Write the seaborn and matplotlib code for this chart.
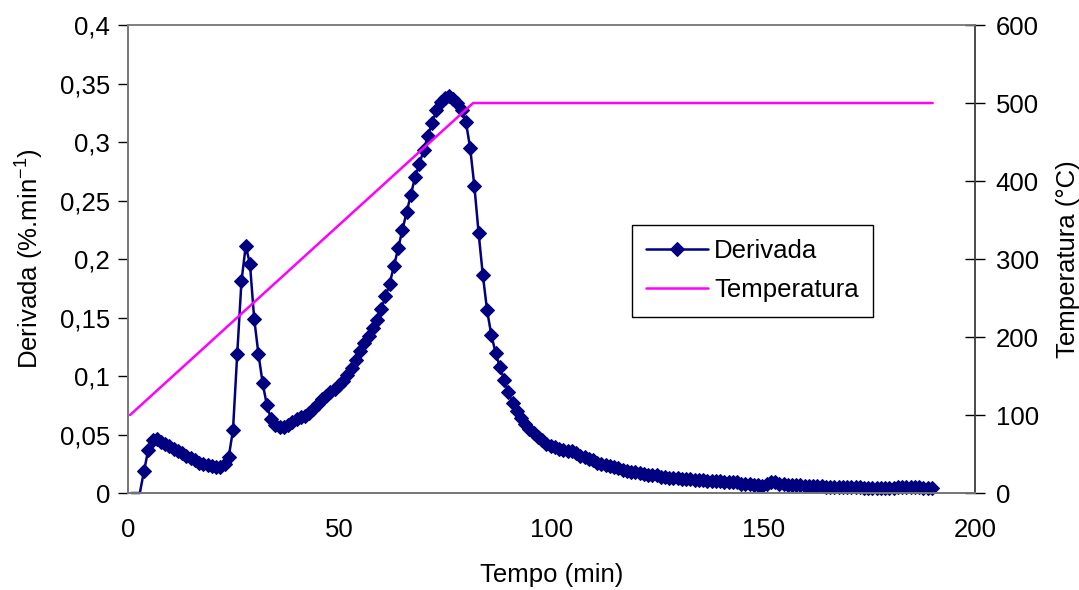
import matplotlib
matplotlib.use("Agg")
import matplotlib.pyplot as plt
import seaborn as sns
import pandas as pd

# ---------------- data ----------------
tempo = [
    0.8, 1.8, 2.8, 3.8, 4.8, 5.8, 6.8, 7.8, 8.8, 9.8,
    10.8, 11.8, 12.8, 13.8, 14.8, 15.8, 16.8, 17.8, 18.8, 19.8,
    20.8, 21.8, 22.8, 23.8, 24.8, 25.8, 26.8, 27.8, 28.8, 29.8,
    30.8, 31.8, 32.8, 33.8, 34.8, 35.8, 36.8, 37.8, 38.8, 39.8,
    40.8, 41.8, 42.8, 43.8, 44.8, 45.8, 46.8, 47.8, 48.8, 49.8,
    50.8, 51.8, 52.8, 53.8, 54.8, 55.8, 56.8, 57.8, 58.8, 59.8,
    60.8, 61.8, 62.8, 63.8, 64.8, 65.8, 66.8, 67.8, 68.8, 69.8,
    70.8, 71.8, 72.8, 73.8, 74.8, 75.8, 76.8, 77.8, 78.8, 79.8,
    80.8, 81.8, 82.8, 83.8, 84.8, 85.8, 86.8, 87.8, 88.8, 89.8,
    90.8, 91.8, 92.8, 93.8, 94.8, 95.8, 96.8, 97.8, 98.8, 99.8,
    100.8, 101.8, 102.8, 103.8, 104.8, 105.8, 106.8, 107.8, 108.8, 109.8,
    110.8, 111.8, 112.8, 113.8, 114.8, 115.8, 116.8, 117.8, 118.8, 119.8,
    120.8, 121.8, 122.8, 123.8, 124.8, 125.8, 126.8, 127.8, 128.8, 129.8,
    130.8, 131.8, 132.8, 133.8, 134.8, 135.8, 136.8, 137.8, 138.8, 139.8,
    140.8, 141.8, 142.8, 143.8, 144.8, 145.8, 146.8, 147.8, 148.8, 149.8,
    150.8, 151.8, 152.8, 153.8, 154.8, 155.8, 156.8, 157.8, 158.8, 159.8,
    160.8, 161.8, 162.8, 163.8, 164.8, 165.8, 166.8, 167.8, 168.8, 169.8,
    170.8, 171.8, 172.8, 173.8, 174.8, 175.8, 176.8, 177.8, 178.8, 179.8,
    180.8, 181.8, 182.8, 183.8, 184.8, 185.8, 186.8, 187.8, 188.8, 189.8,
]

derivada = [
    0.000, 0.000, 0.000, 0.019, 0.037, 0.045, 0.046, 0.044, 0.042, 0.040,
    0.038, 0.036, 0.034, 0.032, 0.030, 0.028, 0.026, 0.025, 0.024, 0.023,
    0.022, 0.022, 0.025, 0.031, 0.054, 0.119, 0.181, 0.211, 0.196, 0.149,
    0.119, 0.094, 0.075, 0.063, 0.058, 0.056, 0.056, 0.058, 0.061, 0.063,
    0.065, 0.066, 0.068, 0.072, 0.076, 0.080, 0.083, 0.086, 0.089, 0.092,
    0.096, 0.101, 0.107, 0.114, 0.121, 0.128, 0.134, 0.141, 0.148, 0.157,
    0.168, 0.179, 0.194, 0.209, 0.225, 0.240, 0.255, 0.270, 0.281, 0.293,
    0.305, 0.316, 0.327, 0.334, 0.338, 0.339, 0.337, 0.333, 0.327, 0.317,
    0.295, 0.262, 0.222, 0.186, 0.156, 0.135, 0.120, 0.108, 0.097, 0.086,
    0.077, 0.070, 0.064, 0.059, 0.055, 0.051, 0.048, 0.045, 0.042, 0.040,
    0.039, 0.038, 0.037, 0.036, 0.036, 0.034, 0.032, 0.031, 0.029, 0.028,
    0.026, 0.025, 0.024, 0.023, 0.022, 0.021, 0.020, 0.019, 0.018, 0.018,
    0.017, 0.016, 0.015, 0.015, 0.015, 0.014, 0.014, 0.013, 0.013, 0.013,
    0.012, 0.012, 0.012, 0.011, 0.011, 0.011, 0.010, 0.010, 0.010, 0.010,
    0.009, 0.009, 0.009, 0.009, 0.008, 0.008, 0.008, 0.007, 0.007, 0.006,
    0.008, 0.009, 0.009, 0.008, 0.008, 0.007, 0.007, 0.007, 0.007, 0.006,
    0.006, 0.006, 0.006, 0.006, 0.005, 0.005, 0.005, 0.005, 0.005, 0.005,
    0.005, 0.005, 0.005, 0.004, 0.004, 0.004, 0.004, 0.004, 0.004, 0.004,
    0.004, 0.005, 0.005, 0.005, 0.005, 0.005, 0.005, 0.004, 0.004, 0.004,
]

tempo_temp = [0.5, 81.5, 190.0]
temperatura = [100, 500, 500]

x_ticks = [0, 50, 100, 150, 200]
y_ticks = [0, 0.05, 0.1, 0.15, 0.2, 0.25, 0.3, 0.35, 0.4]
y_tick_labels = ["0", "0,05", "0,1", "0,15", "0,2", "0,25", "0,3", "0,35", "0,4"]
y2_ticks = [0, 100, 200, 300, 400, 500, 600]

# ---------------- style ----------------
sns.set_style("white")
plt.rcParams["font.family"] = ["Liberation Sans", "DejaVu Sans"]
plt.rcParams["mathtext.fontset"] = "custom"
plt.rcParams["mathtext.rm"] = "Liberation Sans"
plt.rcParams["mathtext.it"] = "Liberation Sans"
for key in ("text.color", "axes.labelcolor", "xtick.color", "ytick.color"):
    plt.rcParams[key] = "black"

FS = 18.5
NAVY = "#000080"
MAGENTA = "#FF00FF"

fig = plt.figure(figsize=(10.79, 5.90), dpi=100)
ax = fig.add_axes([0.1186, 0.1644, 0.7850, 0.7932])
ax2 = ax.twinx()

df_d = pd.DataFrame({"Tempo": tempo, "Derivada": derivada})
df_t = pd.DataFrame({"Tempo": tempo_temp, "Temperatura": temperatura})

sns.lineplot(data=df_d, x="Tempo", y="Derivada", ax=ax, color=NAVY,
             marker="D", markersize=7.2, markeredgecolor=NAVY,
             markerfacecolor=NAVY, linewidth=1.8, estimator=None, sort=False,
             markevery=list(range(3, len(tempo))), clip_on=False,
             label="Derivada", legend=False)
sns.lineplot(data=df_t, x="Tempo", y="Temperatura", ax=ax2, color=MAGENTA,
             linewidth=1.8, estimator=None, sort=False,
             label="Temperatura", legend=False)

ax.set_xlim(0, 200)
ax.set_ylim(0, 0.4)
ax2.set_ylim(0, 600)

ax.set_xticks(x_ticks)
ax.set_xticklabels([str(v) for v in x_ticks], fontsize=FS)
ax.set_yticks(y_ticks)
ax.set_yticklabels(y_tick_labels, fontsize=FS)
ax2.set_yticks(y2_ticks)
ax2.set_yticklabels([str(v) for v in y2_ticks], fontsize=FS)

ax.tick_params(axis="x", direction="out", length=7, width=1, color="black", pad=11)
ax.tick_params(axis="y", direction="out", length=7, width=1, color="black", pad=6)
ax2.tick_params(axis="y", direction="inout", length=14, width=1, color="black", pad=8)

ax.set_xlabel("Tempo (min)", fontsize=FS, labelpad=15)
ax.set_ylabel("Derivada (%.min$^{-1}$)", fontsize=FS, labelpad=10)
ax2.set_ylabel("Temperatura (°C)", fontsize=FS, labelpad=12)

for a in (ax, ax2):
    for side in ("left", "right", "bottom", "top"):
        a.spines[side].set_visible(True)
        a.spines[side].set_color("#7f7f7f")
        a.spines[side].set_linewidth(1.2)
ax.spines["left"].set_color("#404040")
ax.spines["bottom"].set_color("#404040")
ax2.spines["right"].set_color("#404040")

h1, l1 = ax.get_legend_handles_labels()
h2, l2 = ax2.get_legend_handles_labels()
leg = ax2.legend(h1 + h2, l1 + l2, loc="upper left",
                 bbox_to_anchor=(0.595, 0.573), fontsize=FS, frameon=True,
                 fancybox=False, edgecolor="black", framealpha=1,
                 handlelength=2.4, borderpad=0.55, labelspacing=0.6,
                 handletextpad=0.25, borderaxespad=0)
leg.get_frame().set_linewidth(1.0)

fig.savefig("out.png", dpi=100)
